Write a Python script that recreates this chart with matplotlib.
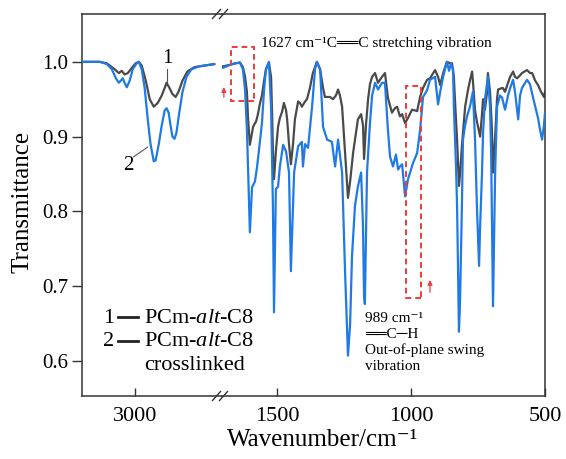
import matplotlib
matplotlib.use("Agg")
import matplotlib.pyplot as plt
from matplotlib.patches import Rectangle
from matplotlib.lines import Line2D
from matplotlib.ticker import FormatStrFormatter

plt.rcParams["font.family"] = ["Liberation Serif", "DejaVu Sans"]
plt.rcParams["mathtext.fontset"] = "custom"
plt.rcParams["mathtext.rm"] = "Liberation Serif"
plt.rcParams["mathtext.it"] = "Liberation Serif:italic"

# ---- spectra, high-wavenumber part (3200-2700 cm-1) ----
wn_hi_1 = [3200, 3133, 3107, 3077, 3062, 3051, 3040, 3028, 3013, 2999, 2987, 2976,
           2961, 2946, 2931, 2916, 2901, 2890, 2883, 2872, 2861, 2849, 2838, 2823,
           2805, 2778, 2741, 2704]
t_hi_1 = [1.000, 1.000, 0.998, 0.990, 0.985, 0.988, 0.983, 0.985, 0.992, 0.998, 1.000, 0.995,
          0.975, 0.950, 0.940, 0.945, 0.955, 0.965, 0.972, 0.965, 0.957, 0.953, 0.960, 0.975,
          0.987, 0.993, 0.995, 0.997]

wn_hi_2 = [3200, 3133, 3107, 3088, 3073, 3062, 3054, 3047, 3040, 3032, 3021, 3010,
           2995, 2987, 2976, 2965, 2954, 2943, 2931, 2924, 2912, 2901, 2890, 2883,
           2875, 2868, 2861, 2853, 2846, 2834, 2823, 2808, 2790, 2760, 2704]
t_hi_2 = [1.000, 1.000, 0.997, 0.990, 0.978, 0.972, 0.975, 0.978, 0.972, 0.966, 0.975, 0.990,
          0.998, 1.000, 0.990, 0.965, 0.925, 0.890, 0.867, 0.868, 0.890, 0.915, 0.935, 0.938,
          0.932, 0.915, 0.900, 0.897, 0.905, 0.935, 0.960, 0.980, 0.990, 0.994, 0.997]

# ---- spectra, fingerprint part (1700-500 cm-1) ----
wn_lo_1 = [1701, 1675, 1656, 1638, 1627, 1619, 1612, 1608, 1601, 1593, 1589, 1582,
           1578, 1571, 1563, 1556, 1548, 1541, 1530, 1522, 1518, 1515, 1511, 1504,
           1496, 1489, 1481, 1474, 1466, 1462, 1455, 1448, 1440, 1433, 1421, 1414,
           1407, 1395, 1388, 1377, 1366, 1351, 1339, 1328, 1321, 1302, 1291, 1280,
           1272, 1265, 1257, 1246, 1235, 1227, 1216, 1205, 1198, 1186, 1179, 1175,
           1168, 1160, 1153, 1145, 1134, 1123, 1108, 1097, 1086, 1071, 1060, 1052,
           1041, 1033, 1022, 1011, 996, 985, 977, 966, 955, 940, 929, 910,
           899, 891, 880, 866, 854, 847, 840, 836, 828, 821, 817, 810,
           798, 787, 780, 772, 769, 761, 754, 742, 735, 731, 724, 716,
           713, 705, 698, 694, 686, 679, 675, 660, 657, 649, 638, 630,
           619, 612, 604, 593, 586, 567, 556, 548, 537, 526, 515, 504, 500]
t_lo_1 = [0.994, 0.996, 0.998, 0.999, 0.993, 0.980, 0.960, 0.925, 0.889, 0.905, 0.913, 0.918,
          0.920, 0.930, 0.945, 0.955, 0.975, 0.990, 0.999, 0.980, 0.930, 0.880, 0.843, 0.880,
          0.913, 0.925, 0.933, 0.945, 0.935, 0.923, 0.890, 0.863, 0.890, 0.923, 0.947, 0.945,
          0.940, 0.947, 0.950, 0.965, 0.985, 1.000, 0.990, 0.965, 0.953, 0.953, 0.950, 0.955,
          0.963, 0.955, 0.940, 0.880, 0.818, 0.840, 0.878, 0.905, 0.923, 0.930, 0.915, 0.870,
          0.915, 0.950, 0.970, 0.980, 0.985, 0.972, 0.980, 0.985, 0.952, 0.932, 0.938, 0.940,
          0.927, 0.930, 0.918, 0.925, 0.936, 0.935, 0.934, 0.953, 0.965, 0.976, 0.978, 0.989,
          0.980, 0.969, 0.985, 1.000, 0.998, 0.998, 0.980, 0.950, 0.896, 0.834, 0.850, 0.887,
          0.940, 0.963, 0.975, 0.987, 0.975, 0.935, 0.920, 0.900, 0.930, 0.950, 0.936, 0.960,
          0.985, 0.960, 0.910, 0.852, 0.900, 0.950, 0.963, 0.965, 0.965, 0.960, 0.972, 0.980,
          0.987, 0.980, 0.978, 0.982, 0.985, 0.989, 0.985, 0.985, 0.975, 0.969, 0.960, 0.953, 0.960]

wn_lo_2 = [1701, 1675, 1656, 1638, 1627, 1619, 1612, 1608, 1601, 1593, 1589, 1582,
           1574, 1563, 1556, 1548, 1541, 1530, 1522, 1515, 1511, 1504, 1496, 1489,
           1477, 1466, 1455, 1448, 1436, 1421, 1407, 1403, 1395, 1384, 1369, 1358,
           1351, 1339, 1328, 1313, 1295, 1283, 1272, 1257, 1246, 1235, 1227, 1220,
           1209, 1198, 1186, 1179, 1175, 1172, 1164, 1153, 1145, 1134, 1123, 1108,
           1097, 1086, 1078, 1067, 1056, 1048, 1041, 1033, 1022, 1011, 992, 977,
           966, 955, 940, 929, 910, 899, 891, 880, 866, 858, 851, 843,
           840, 832, 828, 821, 817, 810, 806, 798, 791, 780, 769, 761,
           754, 746, 742, 735, 731, 724, 713, 705, 701, 694, 686, 679,
           668, 660, 649, 638, 630, 619, 612, 600, 593, 586, 567, 556,
           545, 533, 526, 519, 511, 504, 500]
t_lo_2 = [0.992, 0.996, 0.998, 0.999, 0.990, 0.963, 0.909, 0.860, 0.772, 0.832, 0.835, 0.840,
          0.860, 0.895, 0.918, 0.963, 0.990, 1.000, 0.940, 0.807, 0.665, 0.830, 0.833, 0.860,
          0.889, 0.880, 0.852, 0.720, 0.852, 0.887, 0.893, 0.860, 0.890, 0.885, 0.940, 0.990,
          1.000, 0.990, 0.913, 0.896, 0.893, 0.860, 0.896, 0.852, 0.720, 0.607, 0.650, 0.740,
          0.807, 0.833, 0.852, 0.780, 0.687, 0.676, 0.852, 0.918, 0.955, 0.972, 0.963, 0.972,
          0.972, 0.909, 0.873, 0.860, 0.876, 0.856, 0.860, 0.863, 0.820, 0.843, 0.865, 0.878,
          0.909, 0.953, 0.962, 0.976, 0.980, 0.943, 0.960, 0.980, 1.000, 0.988, 0.998, 0.990,
          0.940, 0.860, 0.807, 0.639, 0.680, 0.807, 0.896, 0.915, 0.927, 0.940, 0.960, 0.896,
          0.807, 0.727, 0.780, 0.852, 0.905, 0.950, 0.980, 0.940, 0.880, 0.673, 0.852, 0.940,
          0.955, 0.952, 0.936, 0.955, 0.965, 0.976, 0.960, 0.923, 0.955, 0.965, 0.976, 0.970,
          0.953, 0.935, 0.925, 0.910, 0.896, 0.915, 0.932]

y_ticks = [0.6, 0.7, 0.8, 0.9, 1.0]
x_ticks_hi = [3000]
x_ticks_lo = [1500, 1000, 500]

BLACK = "#4a4a4a"
BLUE = "#1f7ae6"
RED = "#f03c3c"
SPINE = "#333333"

W, H = 566, 459
fig = plt.figure(figsize=(W / 100, H / 100), dpi=100)


def fx(px):
    return px / W


def fy(py):
    return 1 - py / H


ax_l = fig.add_axes([fx(82), fy(396), fx(222) - fx(82), fy(14) - fy(396)])
ax_r = fig.add_axes([fx(222), fy(396), fx(545) - fx(222), fy(14) - fy(396)])

ax_l.plot(wn_hi_1, t_hi_1, color=BLACK, lw=1.6, zorder=2)
ax_l.plot(wn_hi_2, t_hi_2, color=BLUE, lw=1.6, zorder=3)
ax_r.plot(wn_lo_1, t_lo_1, color=BLACK, lw=1.6, zorder=2)
ax_r.plot(wn_lo_2, t_lo_2, color=BLUE, lw=1.6, zorder=3)

for ax in (ax_l, ax_r):
    ax.set_ylim(0.553, 1.064)
    for s in ax.spines.values():
        s.set_color(SPINE)
        s.set_linewidth(1.1)
    ax.tick_params(axis="x", direction="in", length=6, width=1, color=SPINE,
                   labelsize=16, pad=8)

ax_l.set_xlim(3200, 2675)
ax_r.set_xlim(1705, 500)
ax_l.set_xticks(x_ticks_hi)
ax_r.set_xticks(x_ticks_lo)
ax_l.set_yticks(y_ticks)
ax_l.yaxis.set_major_formatter(FormatStrFormatter("%.1f"))
ax_l.tick_params(axis="y", direction="out", length=7, width=1, color=SPINE,
                 labelsize=15, pad=3)
ax_r.set_yticks([])
ax_l.spines["right"].set_visible(False)
ax_r.spines["left"].set_visible(False)

# axis break marks
for yb in (14, 396):
    for x0 in (212.5, 219.5):
        fig.add_artist(Line2D([fx(x0), fx(x0 + 8)], [fy(yb + 4.5), fy(yb - 4.5)],
                              color=SPINE, lw=1.0))

# curve labels
ax_l.text(2879, 1.004, "1", fontsize=15, ha="center", va="center")
ax_l.plot([2883, 2883], [0.990, 0.973], color="#555555", lw=0.8)
ax_l.text(3028, 0.862, "2", fontsize=15, ha="center", va="center")
ax_l.plot([3006, 2954], [0.873, 0.886], color="#555555", lw=0.8)

# red dashed boxes and arrows
ax_r.add_patch(Rectangle((1586, 0.948), 85, 0.072, fill=False, ec=RED, lw=1.4,
                         ls=(0, (3, 2)), zorder=4, clip_on=False))
ax_r.add_patch(Rectangle((963, 0.684), 55, 0.284, fill=False, ec=RED, lw=1.4,
                         ls=(0, (3, 2)), zorder=4, clip_on=False))
arrow = dict(arrowstyle="-|>", color=RED, lw=0.9, mutation_scale=7)
ax_r.annotate("", xy=(1698, 0.970), xytext=(1698, 0.949), arrowprops=arrow)
ax_r.annotate("", xy=(929, 0.712), xytext=(929, 0.688), arrowprops=arrow)

# annotations
ax_r.text(1559, 1.024, "1627 cm\u207b\u00b9C\u2550\u2550C stretching vibration",
          fontsize=11, ha="left", va="center")
ann_lines = ["989 cm\u207b\u00b9", "\u2550\u2550C\u2500H",
             "Out-of-plane swing", "vibration"]
for i, s in enumerate(ann_lines):
    fig.text(fx(365), fy(322 + 16 * i), s, fontsize=11, ha="left", va="baseline")

# legend text
for i, num in enumerate(["1", "2"]):
    yb = 323 + 23.5 * i
    fig.text(fx(103), fy(yb), num, fontsize=16, ha="left", va="baseline")
    fig.add_artist(Line2D([fx(118), fx(138)], [fy(yb - 6), fy(yb - 6)],
                          color="#222222", lw=2.0))
    fig.text(fx(144), fy(yb), r"PCm-$\mathit{alt}$-C8", fontsize=16,
             ha="left", va="baseline")
fig.text(fx(144), fy(370), "crosslinked", fontsize=16, ha="left", va="baseline")

fig.text(fx(323), fy(440), "Wavenumber/cm\u207b\u00b9", fontsize=18,
         ha="center", va="center")
fig.text(fx(23), fy(202), "Transmittance", fontsize=18, rotation=90,
         ha="center", va="center")

fig.savefig("out.png", dpi=100)
